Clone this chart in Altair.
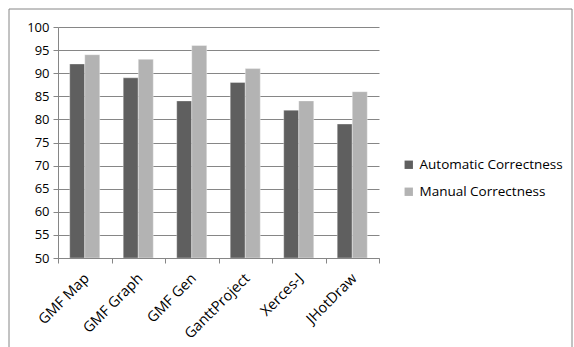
import altair as alt
import pandas as pd

categories = ["GMF Map", "GMF Graph", "GMF Gen", "GanttProject", "Xerces-J", "JHotDraw"]
series = ["Automatic Correctness", "Manual Correctness"]
automatic = [92, 89, 84, 88, 82, 79]
manual = [94, 93, 96, 91, 84, 86]
y_ticks = list(range(50, 101, 5))

rows = []
for c, a, m in zip(categories, automatic, manual):
    rows.append({"project": c, "series": series[0], "value": a})
    rows.append({"project": c, "series": series[1], "value": m})
df = pd.DataFrame(rows)

FONT = "Open Sans"
W, H = 321, 231

bars = alt.Chart(df).mark_bar(clip=True, stroke="#ffffff", strokeOpacity=0.35, strokeWidth=1).encode(
    x=alt.X("project:N", sort=categories, title=None,
            scale=alt.Scale(paddingInner=0, paddingOuter=0),
            axis=alt.Axis(labelAngle=-45, tickBand="extent", labelAlign="right",
                          labelBaseline="middle", labelPadding=13, labelOffset=2,
                          domainColor="#868686", tickColor="#868686", tickSize=5,
                          labelFont=FONT, labelFontSize=14.5, labelColor="#000000",
                          grid=False)),
    xOffset=alt.XOffset("series:N", sort=series,
                        scale=alt.Scale(paddingInner=0, paddingOuter=0.78)),
    y=alt.Y("value:Q", title=None,
            scale=alt.Scale(domain=[50, 100], nice=False, zero=False),
            axis=alt.Axis(values=y_ticks, grid=True, gridColor="#868686",
                          domainColor="#868686", tickColor="#868686", tickSize=5,
                          labelFont=FONT, labelFontSize=13, labelColor="#000000",
                          labelPadding=4)),
    y2=alt.datum(50),
    color=alt.Color("series:N", sort=series,
                    scale=alt.Scale(domain=series, range=["#5f5f5f", "#b3b3b3"]),
                    legend=alt.Legend(title=None, orient="none", legendX=344, legendY=131,
                                      symbolType="square", symbolSize=70,
                                      symbolStrokeWidth=0, rowPadding=12,
                                      labelFont=FONT, labelFontSize=13.5,
                                      labelColor="#000000", labelOffset=4)),
)

border = alt.Chart(pd.DataFrame({"k": [0]})).mark_rect(
    fill=None, stroke="#868686", strokeWidth=1
).encode(
    x=alt.value(-49), x2=alt.value(514), y=alt.value(-18), y2=alt.value(345)
)

chart = alt.layer(border, bars).properties(
    width=W, height=H,
    autosize=alt.AutoSizeParams(type="none"),
    padding={"left": 58, "top": 27, "right": 574 - 58 - W, "bottom": 347 - 27 - H},
    background="#ffffff",
).configure_view(stroke=None)

chart.save("out.html", embed_options={"renderer": "svg", "actions": False})
